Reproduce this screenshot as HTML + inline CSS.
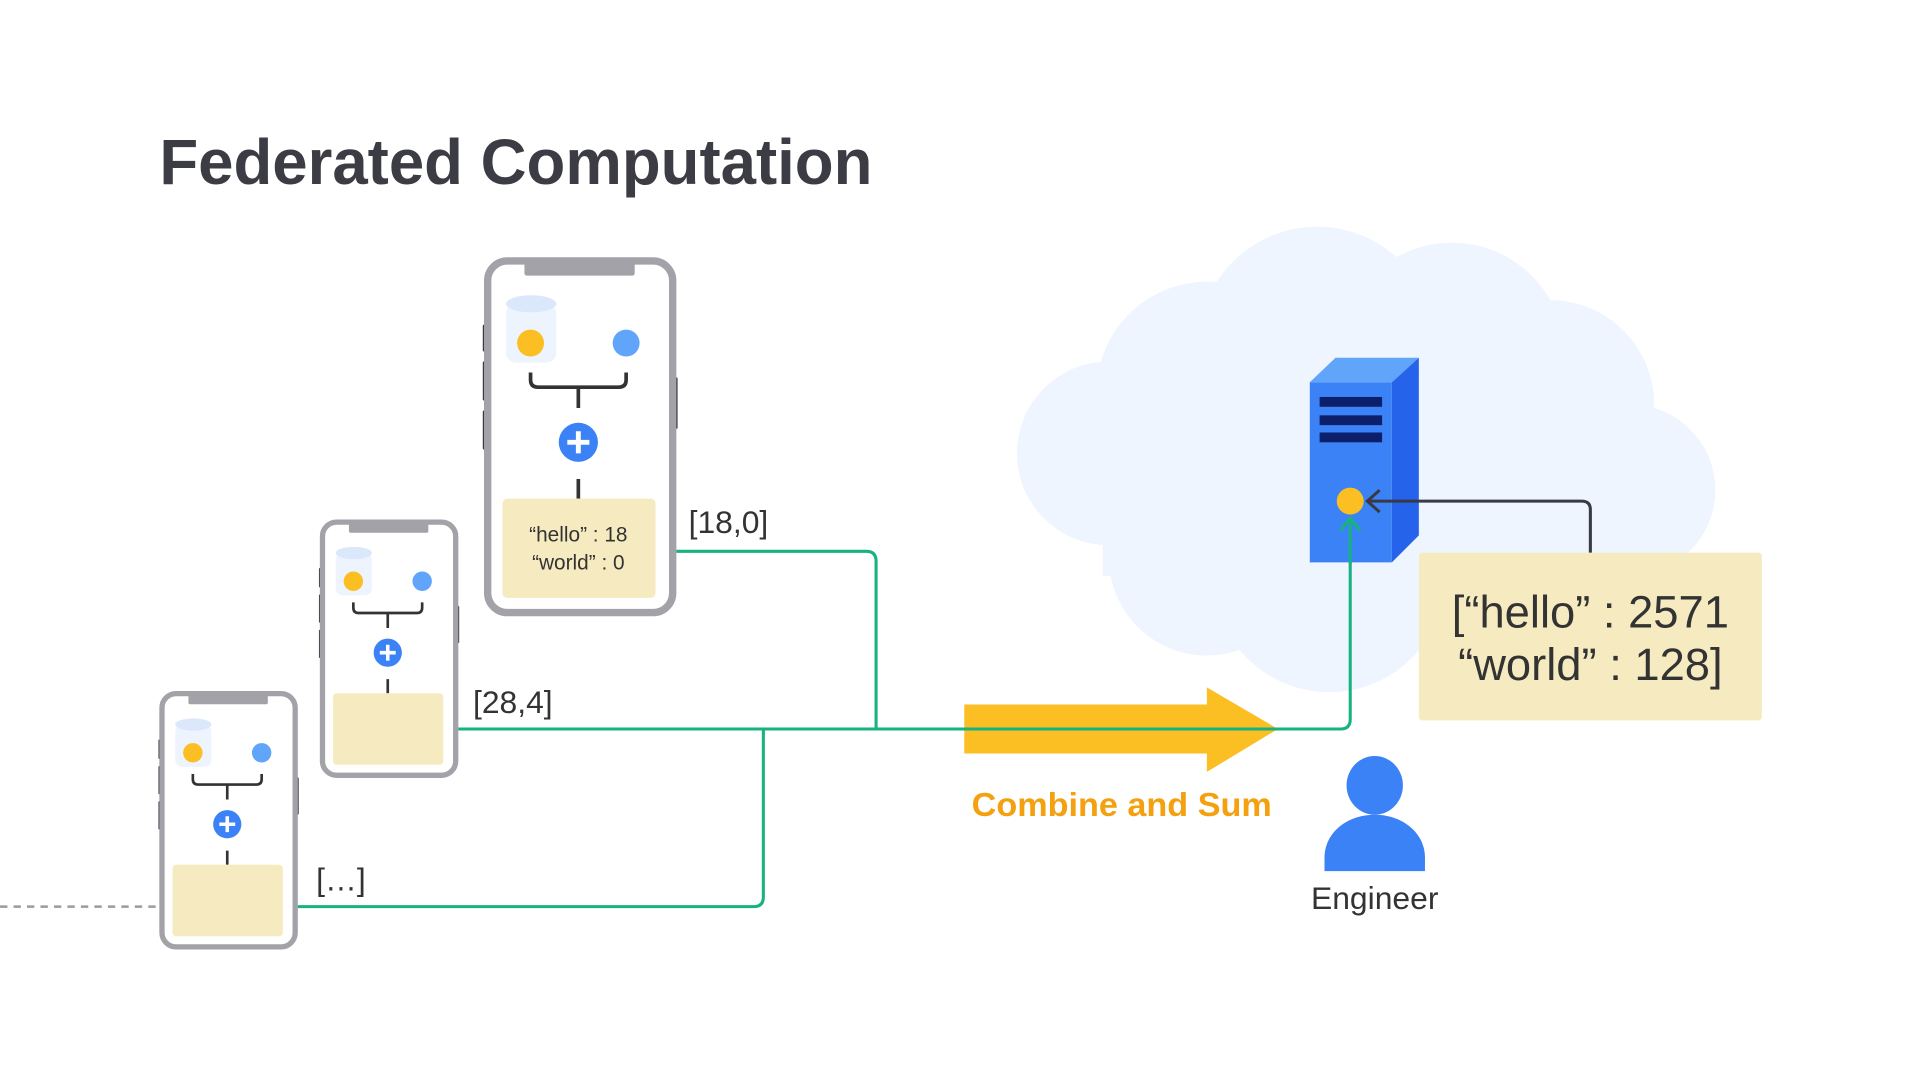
<!DOCTYPE html>
<html><head><meta charset="utf-8"><style>html,body{margin:0;padding:0;background:#fff;}svg{display:block;}</style></head>
<body>
<svg width="1920" height="1081" viewBox="0 0 1567 882.3" xmlns="http://www.w3.org/2000/svg" font-family="'Liberation Sans', sans-serif">
<defs>
<g id="phone">
  <rect x="-1" y="55" width="4" height="22" rx="1" fill="#3a3a45"/>
  <rect x="-1" y="85" width="4" height="32" rx="1" fill="#3a3a45"/>
  <rect x="-1" y="125" width="4" height="32" rx="1" fill="#3a3a45"/>
  <rect x="154" y="98" width="4" height="42" rx="1" fill="#3a3a45"/>
  <rect x="3" y="3" width="151" height="287" rx="16" fill="#fff" stroke="#a2a2a8" stroke-width="6"/>
  <rect x="33" y="3" width="90" height="12" rx="2" fill="#a2a2a8"/>
  <rect x="18" y="38" width="41" height="48" rx="8" fill="#eef4fd"/>
  <ellipse cx="38.5" cy="38" rx="20.5" ry="7" fill="#dbe8fb"/>
  <circle cx="38" cy="70" r="11" fill="#fbbf24"/>
  <circle cx="116" cy="70" r="11" fill="#60a5fa"/>
  <path d="M38 94 v6 q0 6 6 6 H110 q6 0 6 -6 v-6" fill="none" stroke="#333" stroke-width="3"/>
  <path d="M77 106 v17 M77 181 v16" stroke="#333" stroke-width="3"/>
  <circle cx="77" cy="151" r="16" fill="#3b82f6"/>
  <path d="M68 151 h18 M77 142 v18" stroke="#fff" stroke-width="4"/>
  <rect x="15" y="197" width="125" height="81" rx="4" fill="#f6ebc0"/>
</g>
</defs>

<text x="130" y="150" font-size="52" font-weight="bold" fill="#3c3c44" textLength="582" lengthAdjust="spacingAndGlyphs">Federated Computation</text>

<g fill="#eef5fe">
  <circle cx="1075" cy="282" r="97"/>
  <circle cx="1185" cy="290" r="92"/>
  <circle cx="985" cy="320" r="90"/>
  <circle cx="1265" cy="330" r="85"/>
  <circle cx="1330" cy="400" r="70"/>
  <circle cx="905" cy="370" r="75"/>
  <circle cx="985" cy="455" r="80"/>
  <circle cx="1085" cy="470" r="95"/>
  <circle cx="1220" cy="445" r="95"/>
  <rect x="900" y="300" width="420" height="170"/>
</g>

<use href="#phone" transform="translate(395,210)"/>
<use href="#phone" transform="translate(261,424) scale(0.72)"/>
<use href="#phone" transform="translate(130,564) scale(0.72)"/>

<text x="472" y="442" font-size="17" fill="#333" text-anchor="middle">“hello” : 18</text>
<text x="472" y="465" font-size="17" fill="#333" text-anchor="middle">“world” : 0</text>

<text x="562" y="435" font-size="26" fill="#333">[18,0]</text>
<text x="386" y="582" font-size="26" fill="#333">[28,4]</text>
<text x="258" y="727" font-size="26" fill="#333">[…]</text>

<path d="M0 740 H130" stroke="#9a9aa0" stroke-width="2" stroke-dasharray="6 5"/>

<polygon points="787,575 985,575 985,561 1043,595 985,630 985,615 787,615" fill="#fbbf24"/>

<g fill="none" stroke="#17b27f" stroke-width="2.5">
  <path d="M552 450 H707 q8 0 8 8 V595"/>
  <path d="M374 595 H1094 q8 0 8 -8 V423"/>
  <path d="M243 740 H615 q8 0 8 -8 V595"/>
</g>

<polygon points="1069,312 1090,292 1158,292 1136,312" fill="#60a5fa"/>
<polygon points="1136,312 1158,292 1158,437 1136,459" fill="#2563eb"/>
<rect x="1069" y="312" width="67" height="147" fill="#3b82f6"/>
<rect x="1077" y="324" width="51" height="8" fill="#0b1f6b"/>
<rect x="1077" y="339" width="51" height="8" fill="#0b1f6b"/>
<rect x="1077" y="353" width="51" height="8" fill="#0b1f6b"/>
<circle cx="1102" cy="409" r="11" fill="#fbbf24"/>
<path d="M1102 423 V460" stroke="#17b27f" stroke-width="2.5"/>
<polyline points="1094,433 1102,423 1110,433" fill="none" stroke="#17b27f" stroke-width="2.5"/>

<path d="M1298 452 V416 q0 -7 -7 -7 H1117" fill="none" stroke="#3a3a45" stroke-width="2.5"/>
<polyline points="1126,400 1116,409 1126,418" fill="none" stroke="#3a3a45" stroke-width="2.5"/>

<rect x="1158" y="451" width="280" height="137" rx="3" fill="#f6ebc0"/>
<text x="1298" y="512" font-size="37" fill="#333" text-anchor="middle">[“hello” : 2571</text>
<text x="1298" y="555" font-size="37" fill="#333" text-anchor="middle">“world” : 128]</text>

<text x="793" y="666" font-size="27" font-weight="bold" fill="#f4a00f" textLength="245" lengthAdjust="spacingAndGlyphs">Combine and Sum</text>

<ellipse cx="1122" cy="641" rx="23" ry="24" fill="#3b82f6"/>
<path d="M1081 711 V700 C1081 680 1099 665 1122 665 C1145 665 1163 680 1163 700 V711 Z" fill="#3b82f6"/>
<text x="1122" y="742" font-size="26" fill="#333" text-anchor="middle">Engineer</text>
</svg>
</body></html>
